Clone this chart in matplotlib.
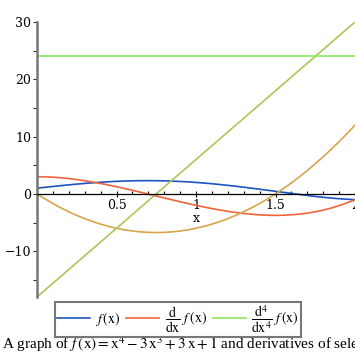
import numpy as np
import matplotlib
matplotlib.use("Agg")
import matplotlib.pyplot as plt
from matplotlib.ticker import MultipleLocator

# polynomial from the caption, highest power first: x^4 - 3x^3 + 0x^2 + 3x + 1
coeffs = [1, -3, 0, 3, 1]
orders = [0, 1, 2, 3, 4]
colors = ["#1d55c0", "#f0643c", "#d8a44c", "#a8c85a", "#8ee65a"]
labels = [r"$f\,(\mathrm{x})$",
          r"$\dfrac{\mathrm{d}}{\mathrm{dx}}\ f\,(\mathrm{x})$",
          None, None,
          r"$\dfrac{\mathrm{d}^4}{\mathrm{dx}^4}\ f\,(\mathrm{x})$"]
x_min, x_max = 0, 2
y_min, y_max = -18, 30

plt.rcParams["mathtext.fontset"] = "stix"
plt.rcParams["font.family"] = "DejaVu Serif"

fig = plt.figure(figsize=(3.55, 3.55), dpi=100)
ax = fig.add_axes([37/355, 58/355, 318/355, 275/355])

xs = np.linspace(x_min, x_max, 300)
handles = []
for k, c, lab in zip(orders, colors, labels):
    p = np.polyder(coeffs, k) if k > 0 else np.array(coeffs)
    line, = ax.plot(xs, np.polyval(p, xs), color=c, lw=1.2, label=lab)
    if lab:
        handles.append(line)

ax.set_xlim(x_min, x_max)
ax.set_ylim(y_min, y_max)

# axes look
for s in ["top", "right"]:
    ax.spines[s].set_visible(False)
ax.spines["left"].set_color("#777777")
ax.spines["left"].set_linewidth(1.8)
ax.spines["bottom"].set_position(("data", 0))
ax.spines["bottom"].set_color("black")
ax.spines["bottom"].set_linewidth(0.9)

ax.xaxis.set_major_locator(MultipleLocator(0.5))
ax.xaxis.set_minor_locator(MultipleLocator(0.1))
ax.yaxis.set_major_locator(MultipleLocator(10))
ax.yaxis.set_minor_locator(MultipleLocator(5))
ax.set_xticks([0.5, 1, 1.5, 2])
ax.set_xticklabels(["0.5", "1", "1.5", "2"])
ax.tick_params(axis="x", which="major", direction="inout", length=5, width=0.8,
               labelsize=9, pad=1)
ax.tick_params(axis="x", which="minor", direction="in", length=2.5, width=0.8)
ax.tick_params(axis="y", which="both", direction="out", length=3, width=0.8,
               colors="#333333", labelcolor="black", labelsize=9, pad=1)
ax.text(1.0, -4.3, "x", ha="center", va="center", fontsize=9)

leg = fig.legend(handles=handles, loc="center", bbox_to_anchor=(0.501, 0.1),
                 ncol=3, fontsize=10, handlelength=2.4, handletextpad=0.4,
                 columnspacing=0.4, borderpad=0.1, fancybox=False,
                 edgecolor="#777777", framealpha=1)
leg.get_frame().set_linewidth(1.5)

fig.text(0.005, 0.002,
         r"A graph of $f\,(\mathrm{x}) = \mathrm{x}^4 - 3\,\mathrm{x}^3 + 3\,\mathrm{x} + 1$"
         " and derivatives of selected orders",
         fontsize=11, family="Liberation Serif", ha="left", va="bottom")

fig.savefig("out.png", dpi=100)
